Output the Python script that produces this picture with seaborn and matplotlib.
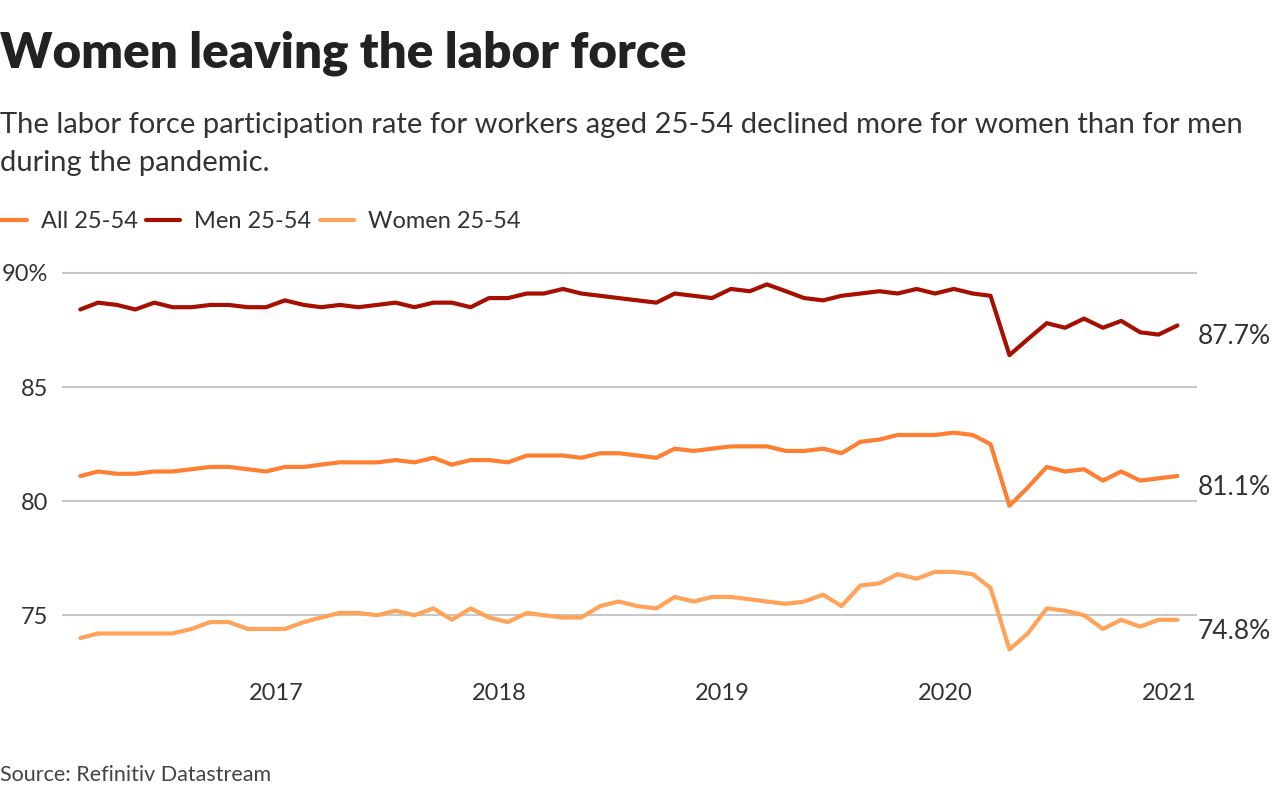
"""Women leaving the labor force - participation rate, ages 25-54."""

import pandas as pd
import matplotlib.pyplot as plt
import seaborn as sns

sns.set_theme(style='white')
plt.rcParams['font.family'] = ['Lato', 'DejaVu Sans']

# Monthly data, Feb 2016 - Jan 2021 (percent)
dates = pd.date_range('2016-02-01', periods=60, freq='MS') + pd.Timedelta(days=14)

all_25_54 = [81.1, 81.3, 81.2, 81.2, 81.3, 81.3, 81.4, 81.5, 81.5, 81.4,
             81.3, 81.5, 81.5, 81.6, 81.7, 81.7, 81.7, 81.8, 81.7, 81.9,
             81.6, 81.8, 81.8, 81.7, 82.0, 82.0, 82.0, 81.9, 82.1, 82.1,
             82.0, 81.9, 82.3, 82.2, 82.3, 82.4, 82.4, 82.4, 82.2, 82.2,
             82.3, 82.1, 82.6, 82.7, 82.9, 82.9, 82.9, 83.0, 82.9, 82.5,
             79.8, 80.6, 81.5, 81.3, 81.4, 80.9, 81.3, 80.9, 81.0, 81.1]

men_25_54 = [88.4, 88.7, 88.6, 88.4, 88.7, 88.5, 88.5, 88.6, 88.6, 88.5,
             88.5, 88.8, 88.6, 88.5, 88.6, 88.5, 88.6, 88.7, 88.5, 88.7,
             88.7, 88.5, 88.9, 88.9, 89.1, 89.1, 89.3, 89.1, 89.0, 88.9,
             88.8, 88.7, 89.1, 89.0, 88.9, 89.3, 89.2, 89.5, 89.2, 88.9,
             88.8, 89.0, 89.1, 89.2, 89.1, 89.3, 89.1, 89.3, 89.1, 89.0,
             86.4, 87.1, 87.8, 87.6, 88.0, 87.6, 87.9, 87.4, 87.3, 87.7]

women_25_54 = [74.0, 74.2, 74.2, 74.2, 74.2, 74.2, 74.4, 74.7, 74.7, 74.4,
               74.4, 74.4, 74.7, 74.9, 75.1, 75.1, 75.0, 75.2, 75.0, 75.3,
               74.8, 75.3, 74.9, 74.7, 75.1, 75.0, 74.9, 74.9, 75.4, 75.6,
               75.4, 75.3, 75.8, 75.6, 75.8, 75.8, 75.7, 75.6, 75.5, 75.6,
               75.9, 75.4, 76.3, 76.4, 76.8, 76.6, 76.9, 76.9, 76.8, 76.2,
               73.5, 74.2, 75.3, 75.2, 75.0, 74.4, 74.8, 74.5, 74.8, 74.8]

series_names = ['All 25-54', 'Men 25-54', 'Women 25-54']
colors = ['#ff7f32', '#a51000', '#ffa35a']
year_ticks = ['2017', '2018', '2019', '2020', '2021']

df = pd.DataFrame({'date': dates,
                   'All 25-54': all_25_54,
                   'Men 25-54': men_25_54,
                   'Women 25-54': women_25_54})
long_df = df.melt(id_vars='date', var_name='series', value_name='rate')

fig = plt.figure(figsize=(12.88, 8), dpi=100)
ax = fig.add_axes([62 / 1288, 130 / 800, 1135 / 1288, 405 / 800])

sns.lineplot(data=long_df, x='date', y='rate', hue='series',
             hue_order=series_names, palette=colors, linewidth=3,
             ax=ax)

ax.set_xlim(pd.Timestamp('2016-01-16'), pd.Timestamp('2021-02-16'))
ax.set_ylim(72.6, 90.35)
ax.set_yticks([75, 80, 85, 90])
ax.set_yticklabels(['75', '80', '85', '90%'])
ax.set_xticks([pd.Timestamp(y + '-01-01') for y in year_ticks])
ax.set_xticklabels(year_ticks)
ax.tick_params(axis='y', length=0, pad=10, labelsize=17, labelcolor='#333333')
ax.tick_params(axis='x', length=0, pad=9, labelsize=17, labelcolor='#333333')
ax.yaxis.grid(True, color='#c8c8c8', linewidth=1.5)
ax.xaxis.grid(False)
for s in ax.spines.values():
    s.set_visible(False)
ax.set_xlabel('')
ax.set_ylabel('')

# end-of-line labels
for name in series_names:
    last = df[name].iloc[-1]
    ax.annotate(f'{last:.1f}%', xy=(1.0, last),
                xycoords=('axes fraction', 'data'),
                xytext=(1, -19), textcoords='offset pixels',
                ha='left', va='baseline', fontsize=19, color='#333333',
                annotation_clip=False)

# legend along the top
handles, labels = ax.get_legend_handles_labels()
ax.legend(handles, labels, loc='center left',
          bbox_to_anchor=(-0.006, 578 / 800), bbox_transform=fig.transFigure,
          ncol=3, frameon=False, fontsize=17, handlelength=1.45,
          handletextpad=0.6, columnspacing=0.35, borderaxespad=0,
          borderpad=0, labelcolor='#333333')

fig.text(0, 1 - 68 / 800, 'Women leaving the labor force',
         fontsize=35.5, fontweight='heavy', color='#222222', va='baseline')
fig.text(0, 1 - 133 / 800,
         'The labor force participation rate for workers aged 25-54 '
         'declined more for women than for men',
         fontsize=21, color='#333333', va='baseline')
fig.text(0, 1 - 171 / 800, 'during the pandemic.',
         fontsize=21, color='#333333', va='baseline')
fig.text(0, 1 - 781 / 800, 'Source: Refinitiv Datastream',
         fontsize=15.5, color='#444444', va='baseline')

fig.savefig('out.png', dpi=100)
